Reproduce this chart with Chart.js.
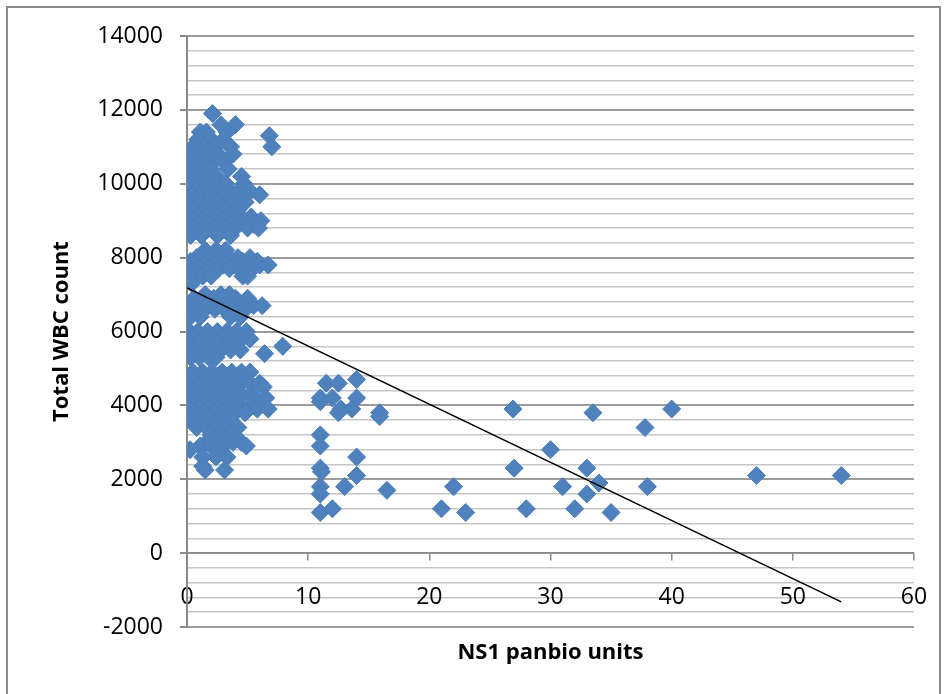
<!DOCTYPE html>
<html>
<head>
<meta charset="utf-8">
<script src="https://cdn.jsdelivr.net/npm/chart.js@4"></script>
<style>
  html, body { margin: 0; padding: 0; background: #fff; }
</style>
</head>
<body>
<canvas id="wbcChart" width="945" height="694"></canvas>
<script>
// NS1 panbio units (x) and total WBC count (y)
const ns1Units = [
  2.1,
  2.8, 4.0,
  1.1, 1.6, 3.3,
  6.8,
  0.9, 2.0, 3.0,
  0.5, 1.4, 2.3, 3.6, 7.0,
  0.3, 1.0, 1.8, 2.6, 3.8,
  0.2, 0.8, 1.5, 2.2, 3.0,
  0.5, 1.2, 2.0, 3.4,
  0.4, 1.0, 1.6, 2.4, 4.5,
  0.3, 0.9, 1.7, 2.5, 3.2, 4.7,
  0.2, 0.7, 1.4, 2.1, 2.8, 3.6, 4.3, 5.2,
  0.5, 1.2, 2.0, 3.0, 4.0, 6.0,
  0.3, 1.0, 1.8, 2.6, 3.4, 4.8,
  0.6, 1.4, 2.2, 3.2, 4.2,
  0.2, 0.9, 1.7, 2.5, 3.4, 4.4, 5.3,
  0.4, 1.2, 2.0, 2.9, 3.8, 4.8, 6.1,
  0.3, 1.0, 1.9, 2.7, 3.5, 5.5,
  0.6, 1.5, 2.3, 3.1, 4.0, 5.0, 5.9,
  0.3, 1.2, 2.5, 3.6,
  1.5, 2.4, 3.2,
  0.8, 1.6, 2.4, 3.3, 4.2, 5.2,
  0.3, 1.1, 2.0, 2.8, 3.7, 4.6, 5.8,
  0.6, 1.4, 2.3, 3.0, 3.9, 5.0, 6.0, 6.7,
  0.2, 1.0, 1.8, 2.6, 3.5, 4.4, 5.4,
  0.4, 1.3, 2.0, 4.6, 5.0,
  0.4,
  1.5, 2.8, 3.5,
  0.6, 1.2, 2.2, 3.0, 4.0, 5.0,
  0.2, 0.9, 1.8, 2.6, 3.4, 4.3, 5.5, 6.2,
  0.5, 1.4, 2.3, 3.1, 4.0, 4.8,
  0.3, 1.1, 3.6, 4.4,
  0.2, 0.9, 1.7, 2.5, 3.3, 4.1, 4.9,
  0.5, 1.3, 2.1, 2.9, 3.7, 4.5, 5.2,
  0.2, 1.0, 1.8, 2.6, 3.4, 4.2,
  7.9,
  0.4, 1.2, 2.0, 2.8, 3.6, 4.4,
  6.4,
  0.3, 1.0, 1.8, 2.4,
  0.5, 1.3, 2.1, 2.9, 3.7, 4.5, 5.2,
  0.2, 1.0, 1.8, 2.6, 3.4, 4.2,
  0.4, 1.2, 2.0, 2.8, 3.6, 4.4, 5.2, 6.0,
  0.2, 1.0, 1.8, 3.0, 4.0, 6.3,
  0.5, 1.3, 2.1, 2.9, 3.7, 4.5, 5.3,
  0.2, 1.0, 1.8, 2.6, 3.4, 4.2, 5.5, 6.5,
  0.4, 1.2, 2.0, 2.8, 3.6, 4.4, 5.2, 6.0,
  0.2, 1.0, 1.8, 2.6, 3.4, 5.8, 6.7,
  0.5, 1.4, 2.2, 3.0, 4.0, 4.8,
  0.3, 1.1, 1.9, 2.7, 3.5,
  0.8, 1.6, 2.4, 3.2, 4.2,
  2.0, 2.8, 3.6,
  1.6, 2.4, 3.8, 4.5,
  1.1, 2.0, 3.0, 4.9,
  0.25, 2.6,
  1.3, 2.4, 3.3,
  1.3,
  1.5, 3.1,
  // higher NS1 values
  11.5, 12.5, 14.0, 11.0, 11.0, 12.0, 14.0, 12.5, 12.7, 13.6,
  15.9, 15.9, 11.0, 11.0, 14.0, 11.0, 11.1, 14.0, 13.0, 11.0,
  11.0, 16.5, 11.0, 12.0, 21.0, 22.0, 23.0, 26.9, 27.0, 28.0,
  30.0, 31.0, 32.0, 33.0, 33.0, 34.0, 33.5, 35.0, 37.8, 40.0,
  38.0, 47.0, 54.0
];
const wbcCount = [
  11900,
  11600, 11600,
  11400, 11400, 11400,
  11300,
  11200, 11200, 11200,
  11000, 11000, 11000, 11000, 11000,
  10800, 10800, 10800, 10800, 10800,
  10600, 10600, 10600, 10600, 10600,
  10400, 10400, 10400, 10400,
  10200, 10200, 10200, 10200, 10200,
  10000, 10000, 10000, 10000, 10000, 10000,
  9800, 9800, 9800, 9800, 9800, 9800, 9800, 9800,
  9700, 9700, 9700, 9700, 9700, 9700,
  9500, 9500, 9500, 9500, 9500, 9500,
  9300, 9300, 9300, 9300, 9300,
  9100, 9100, 9100, 9100, 9100, 9100, 9100,
  9000, 9000, 9000, 9000, 9000, 9000, 9000,
  8900, 8900, 8900, 8900, 8900, 8900,
  8800, 8800, 8800, 8800, 8800, 8800, 8800,
  8600, 8600, 8600, 8600,
  8200, 8200, 8200,
  8000, 8000, 8000, 8000, 8000, 8000,
  7900, 7900, 7900, 7900, 7900, 7900, 7900,
  7800, 7800, 7800, 7800, 7800, 7800, 7800, 7800,
  7700, 7700, 7700, 7700, 7700, 7700, 7700,
  7500, 7500, 7500, 7500, 7500,
  7300,
  7000, 7000, 7000,
  6900, 6900, 6900, 6900, 6900, 6900,
  6700, 6700, 6700, 6700, 6700, 6700, 6700, 6700,
  6600, 6600, 6600, 6600, 6600, 6600,
  6400, 6400, 6400, 6400,
  6000, 6000, 6000, 6000, 6000, 6000, 6000,
  5800, 5800, 5800, 5800, 5800, 5800, 5800,
  5700, 5700, 5700, 5700, 5700, 5700,
  5600,
  5500, 5500, 5500, 5500, 5500, 5500,
  5400,
  5300, 5300, 5300, 5300,
  4900, 4900, 4900, 4900, 4900, 4900, 4900,
  4800, 4800, 4800, 4800, 4800, 4800,
  4600, 4600, 4600, 4600, 4600, 4600, 4600, 4600,
  4500, 4500, 4500, 4500, 4500, 4500,
  4300, 4300, 4300, 4300, 4300, 4300, 4300,
  4200, 4200, 4200, 4200, 4200, 4200, 4200, 4200,
  4000, 4000, 4000, 4000, 4000, 4000, 4000, 4000,
  3900, 3900, 3900, 3900, 3900, 3900, 3900,
  3800, 3800, 3800, 3800, 3800, 3800,
  3600, 3600, 3600, 3600, 3600,
  3400, 3400, 3400, 3400, 3400,
  3200, 3200, 3200,
  3000, 3000, 3000, 3000,
  2900, 2900, 2900, 2900,
  2800, 2800,
  2600, 2600, 2600,
  2350,
  2250, 2250,
  // higher NS1 values
  4600, 4600, 4700, 4200, 4100, 4200, 4200, 3800, 3900, 3900,
  3800, 3700, 3200, 2900, 2600, 2300, 2200, 2100, 1800, 1800,
  1600, 1700, 1100, 1200, 1200, 1800, 1100, 3900, 2300, 1200,
  2800, 1800, 1200, 2300, 1600, 1900, 3800, 1100, 3400, 3900,
  1800, 2100, 2100
];

// linear trend line end points
const trendX = [0, 54];
const trendY = [7180, -1320];

const yLabelTicks = [-2000, 0, 2000, 4000, 6000, 8000, 10000, 12000, 14000];

const points = ns1Units.map((x, i) => ({ x: x, y: wbcCount[i] }));
const trend = trendX.map((x, i) => ({ x: x, y: trendY[i] }));

function isMajor(ctx) {
  return ctx.tick && yLabelTicks.includes(Math.round(ctx.tick.value));
}

const framePlugin = {
  id: 'frame',
  beforeDraw(chart) {
    const c = chart.ctx;
    c.save();
    c.fillStyle = '#fff';
    c.fillRect(0, 0, chart.width, chart.height);
    c.strokeStyle = '#8a8a8a';
    c.lineWidth = 2;
    c.strokeRect(7, 7, 933, 720);
    c.restore();
  }
};

const tickFont = { family: 'Open Sans', size: 23 };
const titleFont = { family: 'Open Sans', size: 22, weight: 'bold' };

new Chart(document.getElementById('wbcChart'), {
  type: 'scatter',
  data: {
    datasets: [
      {
        label: 'Linear (Total WBC count)',
        data: trend,
        showLine: true,
        borderColor: '#000',
        borderWidth: 1.5,
        pointRadius: 0,
        fill: false
      },
      {
        label: 'Total WBC count',
        data: points,
        pointStyle: 'rectRot',
        pointRadius: 9,
        backgroundColor: '#4F81BD',
        borderColor: '#4A7EBB',
        borderWidth: 1
      }
    ]
  },
  options: {
    responsive: false,
    animation: false,
    devicePixelRatio: 1,
    layout: { padding: { top: 36, right: 31, bottom: 67, left: 0 } },
    plugins: {
      legend: { display: false },
      tooltip: { enabled: false }
    },
    scales: {
      x: {
        type: 'linear',
        position: { y: 0 },
        min: 0,
        max: 60,
        afterFit(scale) { scale.paddingLeft = 0; scale.paddingRight = 0; },
        ticks: { stepSize: 10, padding: 24, color: '#000', font: tickFont },
        grid: { drawOnChartArea: false, tickLength: 7, color: '#8a8a8a', lineWidth: 1.5 },
        border: { color: '#8a8a8a', width: 1.5 },
        title: {
          display: true,
          text: 'NS1 panbio units',
          color: '#000',
          font: titleFont,
          padding: { top: 4, bottom: 0 }
        }
      },
      y: {
        type: 'linear',
        min: -2000,
        max: 14000,
        afterFit(scale) { scale.width = 187; },
        ticks: {
          stepSize: 400,
          autoSkip: false,
          padding: 17,
          color: '#000',
          font: tickFont,
          callback: v => yLabelTicks.includes(Math.round(v)) ? String(Math.round(v)) : ''
        },
        grid: {
          color: c => isMajor(c) ? '#9c9c9c' : '#c6c6c6',
          lineWidth: c => isMajor(c) ? 2 : 1.5,
          tickLength: 7,
          tickColor: c => isMajor(c) ? '#8a8a8a' : 'rgba(0,0,0,0)'
        },
        border: { color: '#8a8a8a', width: 2 },
        title: {
          display: true,
          text: 'Total WBC count',
          color: '#000',
          font: titleFont,
          padding: { top: 49, bottom: 0 }
        }
      }
    }
  },
  plugins: [framePlugin]
});
</script>
</body>
</html>
